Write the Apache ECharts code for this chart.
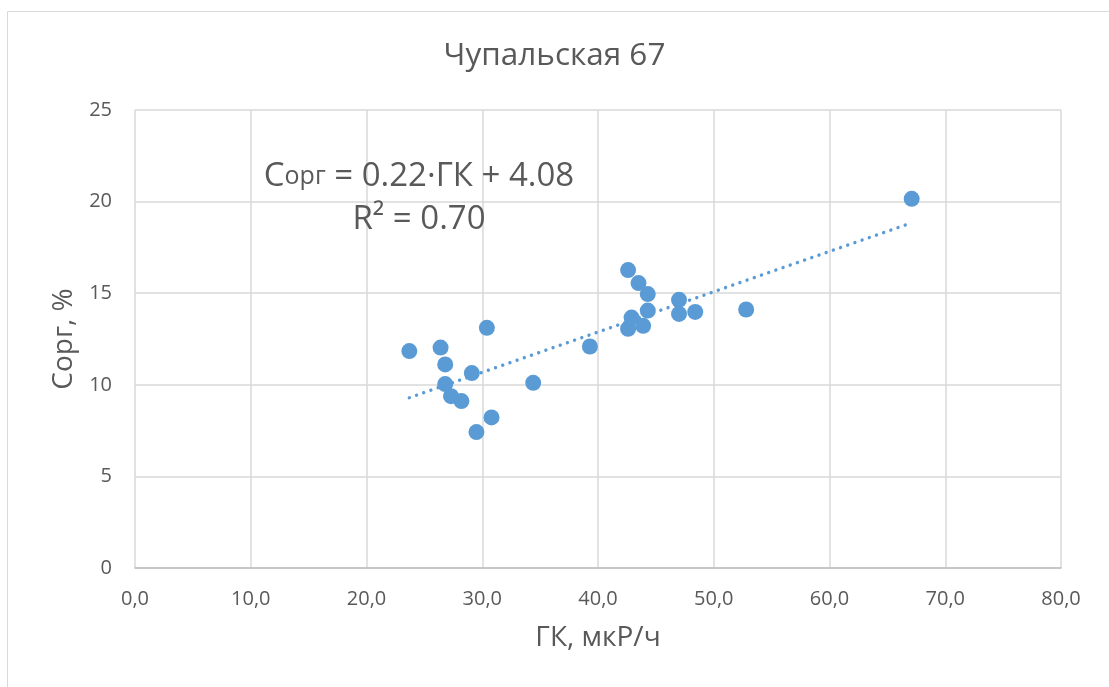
<!DOCTYPE html>
<html>
<head>
<meta charset="utf-8">
<title>Чупальская 67</title>
<script src="https://cdn.jsdelivr.net/npm/echarts@6/dist/echarts.min.js"></script>
<style>
  html, body { margin: 0; padding: 0; background: #ffffff; }
  #chart { width: 1109px; height: 687px; }
</style>
</head>
<body>
<div id="chart"></div>
<script>
// Gamma log reading (ГК, мкР/ч) against organic carbon content (Сорг, %)
const gk   = [23.7, 26.4, 26.8, 26.8, 27.3, 28.2, 29.1, 29.5, 30.4, 30.8, 34.4, 39.3,
              42.6, 42.6, 42.9, 43.5, 43.9, 44.3, 44.3, 47.0, 47.0, 48.4, 52.8, 67.1];
const corg = [11.84, 12.03, 11.11, 10.04, 9.38, 9.11, 10.64, 7.42, 13.11, 8.22, 10.11, 12.09,
              16.26, 13.06, 13.67, 15.55, 13.22, 14.95, 14.05, 14.64, 13.87, 13.98, 14.11, 20.15];

// Linear fit reported on the chart
const slope = 0.22;
const intercept = 4.08;
const rSquared = 0.70;

const xTicks = [0, 10, 20, 30, 40, 50, 60, 70, 80];
const yTicks = [0, 5, 10, 15, 20, 25];

const chartTitle = 'Чупальская 67';
const xName = 'ГК, мкР/ч';
const yName = 'Сорг, %';

const points = gk.map((x, i) => [x, corg[i]]);
const xMin = Math.min(...gk), xMax = Math.max(...gk);
const trend = [xMin, xMax].map(x => [x, slope * x + intercept]);

const FONT = '"Open Sans", "Noto Sans", sans-serif';
const TEXT = '#595959';
const BLUE = '#5B9BD5';

const chart = echarts.init(document.getElementById('chart'), null, { renderer: 'canvas' });

chart.setOption({
  backgroundColor: '#ffffff',
  animation: false,
  title: {
    text: chartTitle,
    left: 'center',
    top: 35,
    textStyle: { fontFamily: FONT, fontSize: 31.5, fontWeight: 'normal', color: TEXT }
  },
  grid: { left: 135, right: 48, top: 110, bottom: 119, containLabel: false },
  xAxis: {
    type: 'value',
    min: xTicks[0],
    max: xTicks[xTicks.length - 1],
    interval: 10,
    name: xName,
    nameLocation: 'middle',
    nameGap: 56,
    nameTextStyle: { fontFamily: FONT, fontSize: 28, color: TEXT },
    axisLine: { show: true, lineStyle: { color: '#BFBFBF', width: 1.5 } },
    axisTick: { show: false },
    axisLabel: {
      margin: 21,
      fontFamily: FONT, fontSize: 20, color: TEXT,
      formatter: v => v.toFixed(1).replace('.', ',')
    },
    splitLine: { show: true, lineStyle: { color: '#D9D9D9', width: 1.5 } }
  },
  yAxis: {
    type: 'value',
    min: yTicks[0],
    max: yTicks[yTicks.length - 1],
    interval: 5,
    name: yName,
    nameLocation: 'middle',
    nameGap: 54,
    nameTextStyle: { fontFamily: FONT, fontSize: 28, color: TEXT },
    axisLine: { show: false },
    axisTick: { show: false },
    axisLabel: { margin: 23, fontFamily: FONT, fontSize: 20, color: TEXT },
    splitLine: { show: true, lineStyle: { color: '#D9D9D9', width: 1.5 } }
  },
  series: [
    {
      name: 'trend',
      type: 'line',
      data: trend,
      symbol: 'none',
      silent: true,
      z: 1,
      lineStyle: { color: BLUE, width: 3.4, type: [0.01, 7.6], cap: 'round' }
    },
    {
      name: 'samples',
      type: 'scatter',
      data: points,
      symbol: 'circle',
      symbolSize: 16,
      z: 2,
      itemStyle: { color: BLUE, opacity: 1 }
    }
  ],
  graphic: [
    {
      type: 'rect',
      silent: true,
      shape: { x: 7.5, y: 11.5, width: 1200, height: 800 },
      style: { fill: 'none', stroke: '#D9D9D9', lineWidth: 1 },
      z: -10
    },
    {
      type: 'text',
      x: 419, y: 177,
      style: {
        text: '{c|C}{s|орг}{c| = ' + slope.toFixed(2) + '·ГК + ' + intercept.toFixed(2) + '}',
        align: 'center', verticalAlign: 'middle',
        rich: {
          c: { fontFamily: FONT, fontSize: 33, fill: TEXT },
          s: { fontFamily: FONT, fontSize: 25, fill: TEXT }
        }
      },
      z: 10
    },
    {
      type: 'text',
      x: 419, y: 220,
      style: {
        text: 'R² = ' + rSquared.toFixed(2),
        align: 'center', verticalAlign: 'middle',
        font: '33px ' + FONT,
        fill: TEXT
      },
      z: 10
    }
  ]
});
</script>
</body>
</html>
